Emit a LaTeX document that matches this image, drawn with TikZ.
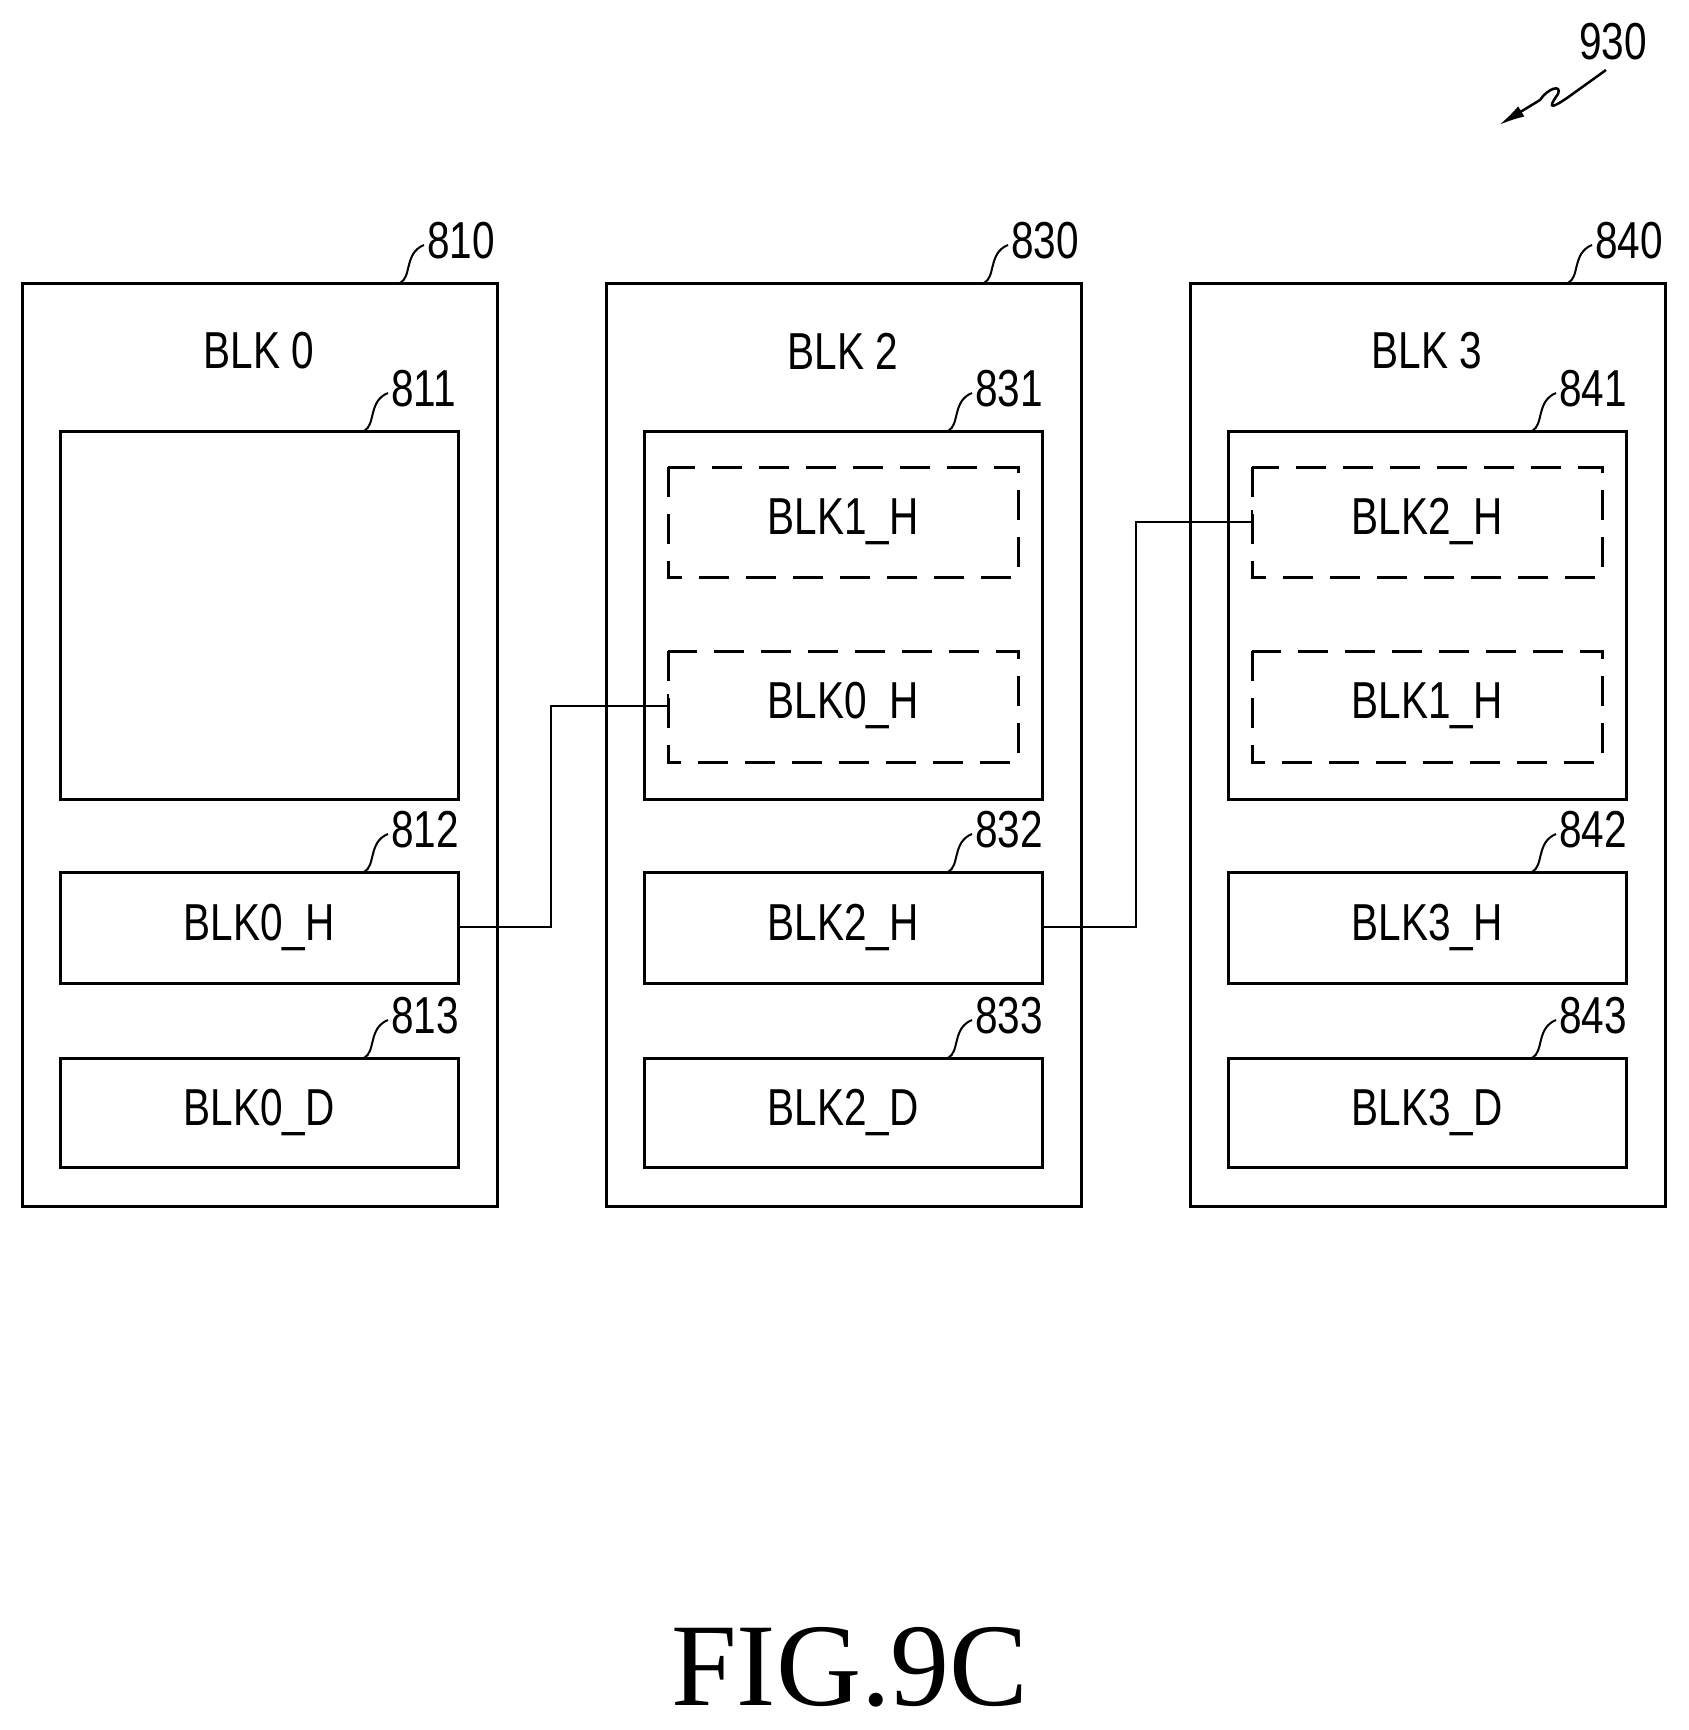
\documentclass[tikz,border=0pt]{standalone}
\usetikzlibrary{arrows.meta}
\usepackage{fontspec}
\setmainfont{Liberation Sans}
\newfontfamily\figfont{Liberation Serif}
\begin{document}
\begin{tikzpicture}[x=1pt,y=-1pt,line width=3pt,
  box/.style={draw,line join=miter},
  dbox/.style={draw,dash pattern=on 30pt off 17pt},
  txt/.style={font=\fontsize{52}{52}\selectfont,xscale=0.78,inner sep=0},
  lbl/.style={font=\fontsize{52}{52}\selectfont,xscale=0.78,inner sep=0,anchor=west},
  lead/.style={line width=2pt}]
\useasboundingbox (0,0) rectangle (1689,1730);
\newcommand{\leadto}[3]{\draw[lead] (#1,#2) .. controls (#1+12,#2-6) and (#1+4,#2-30) .. (#1+24,#2-38) coordinate (#3);}
% column 1
\draw[box] (22,283) rectangle (497,1206);
\node[txt] (t0) at (259,351) {BLK 0};
\draw[box] (60,431) rectangle (458,799);
\draw[box] (60,872) rectangle (458,983);
\node[txt] (a2) at (259,927) {BLK0\_H};
\draw[box] (60,1058) rectangle (458,1167);
\node[txt] (a3) at (259,1112) {BLK0\_D};
% column 2
\draw[box] (606,283) rectangle (1081,1206);
\node[txt] (t2) at (843,351) {BLK 2};
\draw[box] (644,431) rectangle (1042,799);
\draw[dbox] (668,467) rectangle (1018,577);
\node[txt] (b11) at (843,522) {BLK1\_H};
\draw[dbox] (668,651) rectangle (1018,762);
\node[txt] (b12) at (843,706) {BLK0\_H};
\draw[box] (644,872) rectangle (1042,983);
\node[txt] (b2) at (843,927) {BLK2\_H};
\draw[box] (644,1058) rectangle (1042,1167);
\node[txt] (b3) at (843,1112) {BLK2\_D};
% column 3
\draw[box] (1190,283) rectangle (1665,1206);
\node[txt] (t3) at (1427,351) {BLK 3};
\draw[box] (1228,431) rectangle (1626,799);
\draw[dbox] (1252,467) rectangle (1602,577);
\node[txt] (c11) at (1427,522) {BLK2\_H};
\draw[dbox] (1252,651) rectangle (1602,762);
\node[txt] (c12) at (1427,706) {BLK1\_H};
\draw[box] (1228,872) rectangle (1626,983);
\node[txt] (c2) at (1427,927) {BLK3\_H};
\draw[box] (1228,1058) rectangle (1626,1167);
\node[txt] (c3) at (1427,1112) {BLK3\_D};
% connectors
\coordinate (p1) at (458,927); \coordinate (q1) at (668,706);
\draw[line width=2.5pt] (p1) -- (551,927) -- (551,706) -- (q1);
\draw[line width=2.5pt] (668,694) -- (668,718);
\coordinate (p2) at (1042,927); \coordinate (q2) at (1252,522);
\draw[line width=2.5pt] (p2) -- (1136,927) -- (1136,522) -- (q2);
\draw[line width=2.5pt] (1252,510) -- (1252,534);
% labels
\foreach \dx/\n in {0/81, 584/83, 1168/84}{
  \leadto{400+\dx}{283}{l0}\node[lbl] at ([xshift=2pt,yshift=4pt]l0) {\n0};
  \leadto{364+\dx}{431}{l1}\node[lbl] at ([xshift=2pt,yshift=4pt]l1) {\n1};
  \leadto{364+\dx}{872}{l2}\node[lbl] at ([xshift=2pt,yshift=4pt]l2) {\n2};
  \leadto{364+\dx}{1058}{l3}\node[lbl] at ([xshift=2pt,yshift=4pt]l3) {\n3};
}
% 930
\node[lbl] (n930) at (1578,42) {930};
\coordinate (s) at (1606,70);
\coordinate (e) at (1499,125);
\draw[line width=2.5pt,-{Latex[length=26pt,width=12pt]}] (s) -- (1567,98) .. controls (1555,106) and (1545,112) .. (1558,94) .. controls (1562,84) and (1548,88) .. (1540,100) -- (e);
\node[font=\figfont\fontsize{118}{118}\selectfont,inner sep=0] (fig) at (850,1667) {FIG.9C};
\end{tikzpicture}
\end{document}
